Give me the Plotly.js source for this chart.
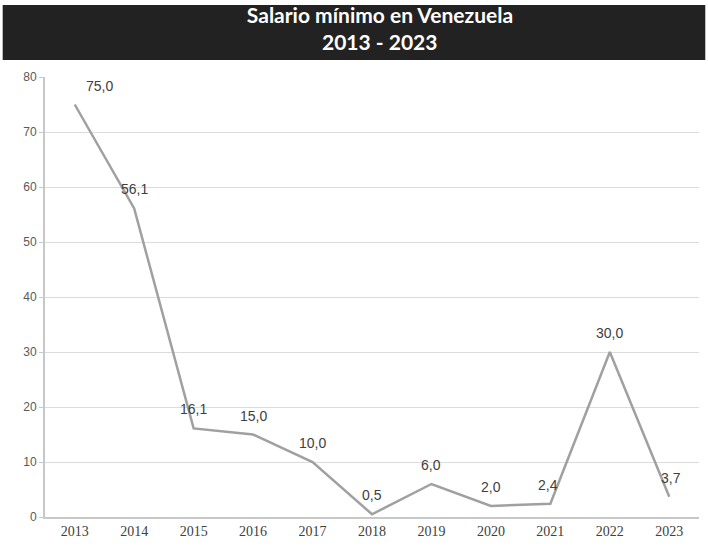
<!DOCTYPE html>
<html><head><meta charset="utf-8">
<script src="https://cdn.plot.ly/plotly-3.0.1.min.js"></script>
<style>html,body{margin:0;padding:0;background:#fff}#c{width:708px;height:546px}</style>
</head><body><div id="c"></div>
<script>
const years = ['2013','2014','2015','2016','2017','2018','2019','2020','2021','2022','2023'];
const salario = [75.0, 56.1, 16.1, 15.0, 10.0, 0.5, 6.0, 2.0, 2.4, 30.0, 3.7];
const labels = ['75,0','56,1','16,1','15,0','10,0','0,5','6,0','2,0','2,4','30,0','3,7'];
const yTicks = [0,10,20,30,40,50,60,70,80];

const labelShiftX = [25,0,0,0,0,0,0,0,-2,0,2];

const annotations = years.map((y,i)=>({
  x: i, y: salario[i], xref:'x', yref:'y', text: labels[i], showarrow:false,
  yshift: 19, xshift: labelShiftX[i],
  font:{family:'Liberation Sans, Arial, sans-serif', size:14, color:'#404040'}
}));
annotations.push({
  xref:'paper', yref:'paper', x:0.512, y:(517-42)/440, xanchor:'center', yanchor:'middle', showarrow:false,
  text:'<b>2013 - 2023</b>', font:{family:'Lato, Open Sans, sans-serif', size:21, color:'#ffffff'}
});

const trace = {
  x: years, y: salario, type:'scatter', mode:'lines',
  line:{color:'#a0a0a0', width:2.5}, hoverinfo:'skip'
};

const layout = {
  width:708, height:546,
  margin:{l:45, r:9, t:77, b:29},
  paper_bgcolor:'#fff', plot_bgcolor:'#fff',
  showlegend:false,
  title:{text:'<b>Salario mínimo en Venezuela</b>',
    font:{family:'Lato, Open Sans, sans-serif', size:21, color:'#ffffff'},
    x:380/708, xanchor:'center', y:1-16/546, yanchor:'middle', yref:'container'},
  shapes:[{type:'rect', xref:'paper', yref:'paper', x0:-0.0647, x1:1.0096, y0:1.0386, y1:1.1636,
    fillcolor:'#222222', line:{width:0}, layer:'below'}],
  xaxis:{type:'category', range:[-0.5,10.5], showgrid:false, showline:true, linecolor:'#c8c8c8', linewidth:2,
    ticks:'', tickfont:{family:'Liberation Serif, Times New Roman, serif', size:14, color:'#404040'},
    fixedrange:true, zeroline:false},
  yaxis:{range:[0,80], tickvals:yTicks, showgrid:true, gridcolor:'#dcdcdc', gridwidth:1,
    showline:true, linecolor:'#c8c8c8', linewidth:2, ticks:'outside', ticklen:4, tickcolor:'#c8c8c8',
    tickfont:{family:'Liberation Sans, Arial, sans-serif', size:12, color:'#595959'},
    zeroline:false, fixedrange:true},
  annotations: annotations
};

Plotly.newPlot('c',[trace],layout,{staticPlot:true,displayModeBar:false});
</script></body></html>
